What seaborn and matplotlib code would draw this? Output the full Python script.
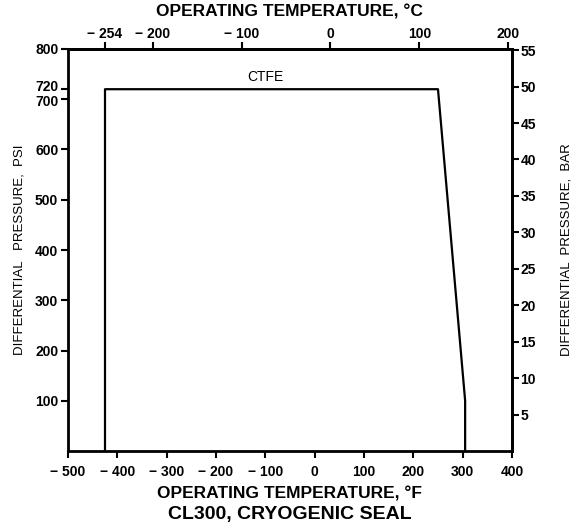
# CL300 cryogenic seal - pressure/temperature envelope

import matplotlib
matplotlib.use('Agg')
import matplotlib.pyplot as plt
import matplotlib.transforms as mtransforms
import seaborn as sns
import pandas as pd

# ------------------------------------------------------
# INPUTS
# ------------------------------------------------------

# CTFE envelope
temp_f = [-425, -425, 250, 305, 305]
pressure_psi = [0, 720, 720, 100, 0]

f_ticks = [-500, -400, -300, -200, -100, 0, 100, 200, 300, 400]
c_ticks = [-254, -200, -100, 0, 100, 200]
psi_ticks = [100, 200, 300, 400, 500, 600, 700, 720, 800]
bar_ticks = [5, 10, 15, 20, 25, 30, 35, 40, 45, 50, 55]

def lab(v):
	return ('\u2212 ' + str(abs(v))) if v < 0 else str(v)

# ------------------------------------------------------
# PLOT
# ------------------------------------------------------

sns.set_style('ticks', {'axes.edgecolor': 'k', 'text.color': 'k',
	'xtick.color': 'k', 'ytick.color': 'k', 'axes.labelcolor': 'k'})
plt.rcParams['font.family'] = ['Liberation Sans', 'DejaVu Sans']

# one unit so seaborn draws the points in order without averaging
df = pd.DataFrame({'F': temp_f, 'PSI': pressure_psi, 'seal': 'CTFE'})

fig = plt.figure(figsize=(5.79, 5.29), dpi=100)
ax = fig.add_axes([68/579, 1-451/529, (512-68)/579, (451-49)/529])

sns.lineplot(data=df, x='F', y='PSI', sort=False, estimator=None, units='seal',
	color='k', linewidth=1.6, ax=ax)

ax.set_xlim(-500, 400)
ax.set_ylim(0, 800)
for s in ax.spines.values():
	s.set_linewidth(2)
	s.set_visible(True)

ax.set_xticks(f_ticks)
ax.set_xticklabels([lab(v) for v in f_ticks], fontweight='bold', fontsize=10)
ax.set_yticks(psi_ticks)
ax.set_yticklabels([str(v) for v in psi_ticks], fontweight='bold', fontsize=10)
ax.tick_params(axis='both', width=1.5, length=5, pad=2)
ax.tick_params(axis='x', pad=5)
ax.set_xlabel('')
ax.set_ylabel('DIFFERENTIAL   PRESSURE,  PSI', fontsize=9.5, labelpad=7)

# nudge the 720 label up so it clears 700
for t in ax.get_yticklabels():
	if t.get_text() == '720':
		t.set_transform(t.get_transform() + mtransforms.ScaledTranslation(0, 3/72, fig.dpi_scale_trans))
	if t.get_text() == '700':
		t.set_transform(t.get_transform() + mtransforms.ScaledTranslation(0, -1/72, fig.dpi_scale_trans))

# top axis in deg C
top = ax.secondary_xaxis('top', functions=(lambda f: (f - 32) / 1.8, lambda c: c * 1.8 + 32))
top.set_xticks(c_ticks)
top.set_xticklabels([lab(v) for v in c_ticks], fontweight='bold', fontsize=10)
top.tick_params(width=1.5, length=5, pad=1)
top.spines['top'].set_linewidth(2)

# right axis in bar
right = ax.secondary_yaxis('right', functions=(lambda p: p / 14.5038, lambda b: b * 14.5038))
right.set_yticks(bar_ticks)
right.set_yticklabels([str(v) for v in bar_ticks], fontweight='bold', fontsize=10)
right.tick_params(width=1.5, length=5, pad=1)
right.spines['right'].set_linewidth(2)
right.set_ylabel('DIFFERENTIAL  PRESSURE,  BAR', fontsize=9.5, labelpad=18)

ax.text(-100, 745, 'CTFE', fontsize=10, ha='center', va='center')

fig.text(0.5, 1-12/529, 'OPERATING TEMPERATURE, \u00b0C', ha='center', va='center',
	fontweight='bold', fontsize=12.5)
fig.text(0.5, 1-494/529, 'OPERATING TEMPERATURE, \u00b0F', ha='center', va='center',
	fontweight='bold', fontsize=12.5)
fig.text(0.5, 1-514/529, 'CL300, CRYOGENIC SEAL', ha='center', va='center',
	fontweight='bold', fontsize=14)

plt.savefig('out.png', dpi=100)
plt.close('all')
